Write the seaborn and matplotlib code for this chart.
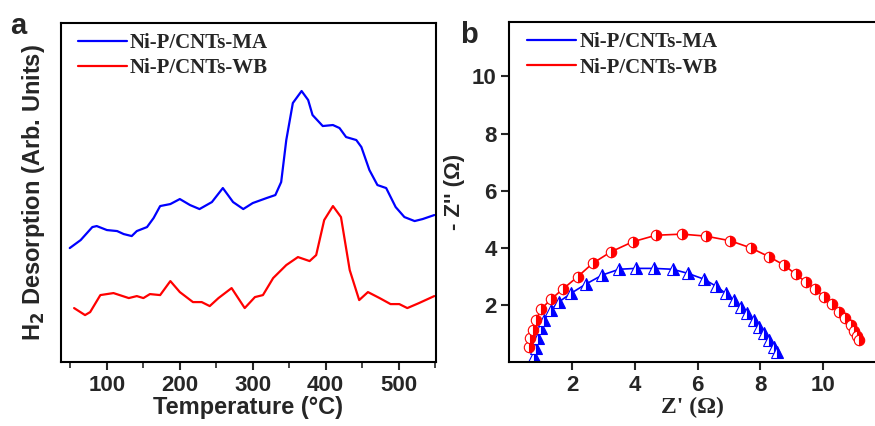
import numpy as np
import pandas as pd
import matplotlib
matplotlib.use("Agg")
import matplotlib.pyplot as plt
from matplotlib.lines import Line2D
from matplotlib.ticker import MultipleLocator
import seaborn as sns

# TPD data (panel a), arbitrary units
ma_temp = [49, 64, 80, 86, 100, 114, 123, 134, 141, 155, 164, 173, 187, 200, 214, 227,
           244, 259, 273, 287, 300, 319, 331, 339, 346, 355, 367, 376, 382, 396, 410, 419,
           428, 442, 449, 460, 471, 483, 496, 508, 522, 533, 549]
ma_signal = [114, 122, 135, 136, 132, 131, 128, 126, 131, 135, 144, 156, 158, 163, 157, 153,
             160, 174, 160, 153, 159, 164, 167, 180, 222, 259, 271, 262, 247, 236, 237, 234,
             225, 222, 215, 192, 177, 174, 155, 145, 141, 143, 147]
wb_temp = [55, 70, 77, 91, 109, 130, 141, 150, 159, 173, 187, 200, 218, 230, 241, 253,
           271, 289, 303, 314, 328, 346, 362, 378, 387, 398, 410, 421, 433, 446, 458, 474,
           489, 501, 512, 528, 549]
wb_signal = [54, 47, 50, 67, 69, 64, 66, 64, 68, 67, 81, 70, 60, 60, 56, 64,
             74, 54, 65, 67, 84, 97, 105, 101, 107, 142, 156, 145, 92, 62, 70, 64,
             58, 58, 54, 59, 66]

# EIS Nyquist data (panel b)
ma_zre = [0.80, 0.86, 0.91, 1.01, 1.12, 1.33, 1.60, 1.97, 2.44, 2.97, 3.50, 4.03, 4.62, 5.20,
          5.68, 6.21, 6.58, 6.89, 7.16, 7.37, 7.58, 7.79, 7.95, 8.11, 8.27, 8.43, 8.54]
ma_zim = [0.20, 0.49, 0.84, 1.19, 1.48, 1.83, 2.12, 2.41, 2.73, 3.05, 3.25, 3.28, 3.28, 3.25,
          3.11, 2.90, 2.66, 2.41, 2.17, 1.94, 1.71, 1.48, 1.24, 1.01, 0.78, 0.54, 0.37]
wb_zre = [0.62, 0.67, 0.75, 0.86, 1.01, 1.33, 1.70, 2.18, 2.66, 3.24, 3.93, 4.67, 5.50, 6.26,
          7.03, 7.69, 8.27, 8.75, 9.12, 9.44, 9.75, 10.02, 10.28, 10.50, 10.71, 10.87, 10.97,
          11.08, 11.15]
wb_zim = [0.54, 0.84, 1.13, 1.48, 1.85, 2.20, 2.55, 2.99, 3.46, 3.86, 4.21, 4.44, 4.48, 4.41,
          4.25, 4.00, 3.69, 3.40, 3.08, 2.81, 2.55, 2.29, 2.03, 1.77, 1.53, 1.30, 1.09,
          0.92, 0.78]

labels = ["Ni-P/CNTs-MA", "Ni-P/CNTs-WB"]
colors = ["#0000ff", "#ff0000"]

sns.set_style("ticks")
plt.rcParams["font.family"] = ["Liberation Sans", "DejaVu Sans"]
plt.rcParams["font.weight"] = "bold"
plt.rcParams["axes.linewidth"] = 1.5

fig = plt.figure(figsize=(8.75, 4.26), dpi=100)
ax1 = fig.add_axes([0.0697, 0.150, 0.4283, 0.796])
ax2 = fig.add_axes([0.582, 0.150, 0.418, 0.798])

# panel a
sns.lineplot(x=ma_temp, y=ma_signal, ax=ax1, color=colors[0], lw=1.6, sort=False, estimator=None)
sns.lineplot(x=wb_temp, y=wb_signal, ax=ax1, color=colors[1], lw=1.6, sort=False, estimator=None)
ax1.set_xlim(37, 551)
ax1.set_ylim(0, 339)
ax1.set_yticks([])
ax1.xaxis.set_major_locator(MultipleLocator(100))
ax1.xaxis.set_minor_locator(MultipleLocator(50))
ax1.tick_params(axis="x", which="major", direction="out", length=6, width=1.5,
                labelsize=16, pad=3)
ax1.tick_params(axis="x", which="minor", direction="out", length=4, width=1.2)
for lab in ax1.get_xticklabels():
    lab.set_fontweight("bold")
ax1.set_xlabel("Temperature (°C)", fontsize=17, fontweight="bold", labelpad=0)
ax1.set_ylabel("H$_\\mathbf{2}$ Desorption (Arb. Units)", fontsize=17, fontweight="bold", labelpad=10)
for s in ax1.spines.values():
    s.set_linewidth(1.5)
    s.set_color("black")
fig.text(0.012, 0.94, "a", fontsize=21, fontweight="bold", va="center")

# panel b
sns.lineplot(x=ma_zre, y=ma_zim, ax=ax2, color=colors[0], lw=1.2, sort=False, estimator=None,
             marker="^", markersize=8, fillstyle="right", markerfacecoloralt="white",
             markeredgecolor=colors[0], markeredgewidth=0.8)
sns.lineplot(x=wb_zre, y=wb_zim, ax=ax2, color=colors[1], lw=1.2, sort=False, estimator=None,
             marker="o", markersize=7.5, fillstyle="right", markerfacecoloralt="white",
             markeredgecolor=colors[1], markeredgewidth=0.8)
ax2.set_xlim(0, 11.65)
ax2.set_ylim(0, 11.9)
ax2.set_xticks([2, 4, 6, 8, 10])
ax2.set_yticks([2, 4, 6, 8, 10])
ax2.tick_params(direction="out", length=6, width=1.5, labelsize=16, pad=3)
for lab in ax2.get_xticklabels() + ax2.get_yticklabels():
    lab.set_fontweight("bold")
ax2.set_xlabel("Z' (Ω)", fontsize=17, fontweight="bold", family="Liberation Serif", labelpad=1)
ax2.set_ylabel("- Z'' (Ω)", fontsize=16, fontweight="bold", labelpad=5)
for s in ax2.spines.values():
    s.set_linewidth(1.5)
    s.set_color("black")
ax2.spines["right"].set_visible(False)
fig.text(0.526, 0.918, "b", fontsize=21, fontweight="bold", va="center")

anchors = {ax1: (0.045, 0.97), ax2: (0.049, 0.97)}
for ax in (ax1, ax2):
    handles = [Line2D([], [], color=c, lw=1.6) for c in colors]
    ax.legend(handles, labels, loc="upper left", frameon=False, handlelength=2.35,
              handletextpad=0.15, labelspacing=0.25, borderaxespad=0, borderpad=0,
              bbox_to_anchor=anchors[ax],
              prop={"family": "Liberation Serif", "weight": "bold", "size": 15})

fig.savefig("out.png", dpi=100)
